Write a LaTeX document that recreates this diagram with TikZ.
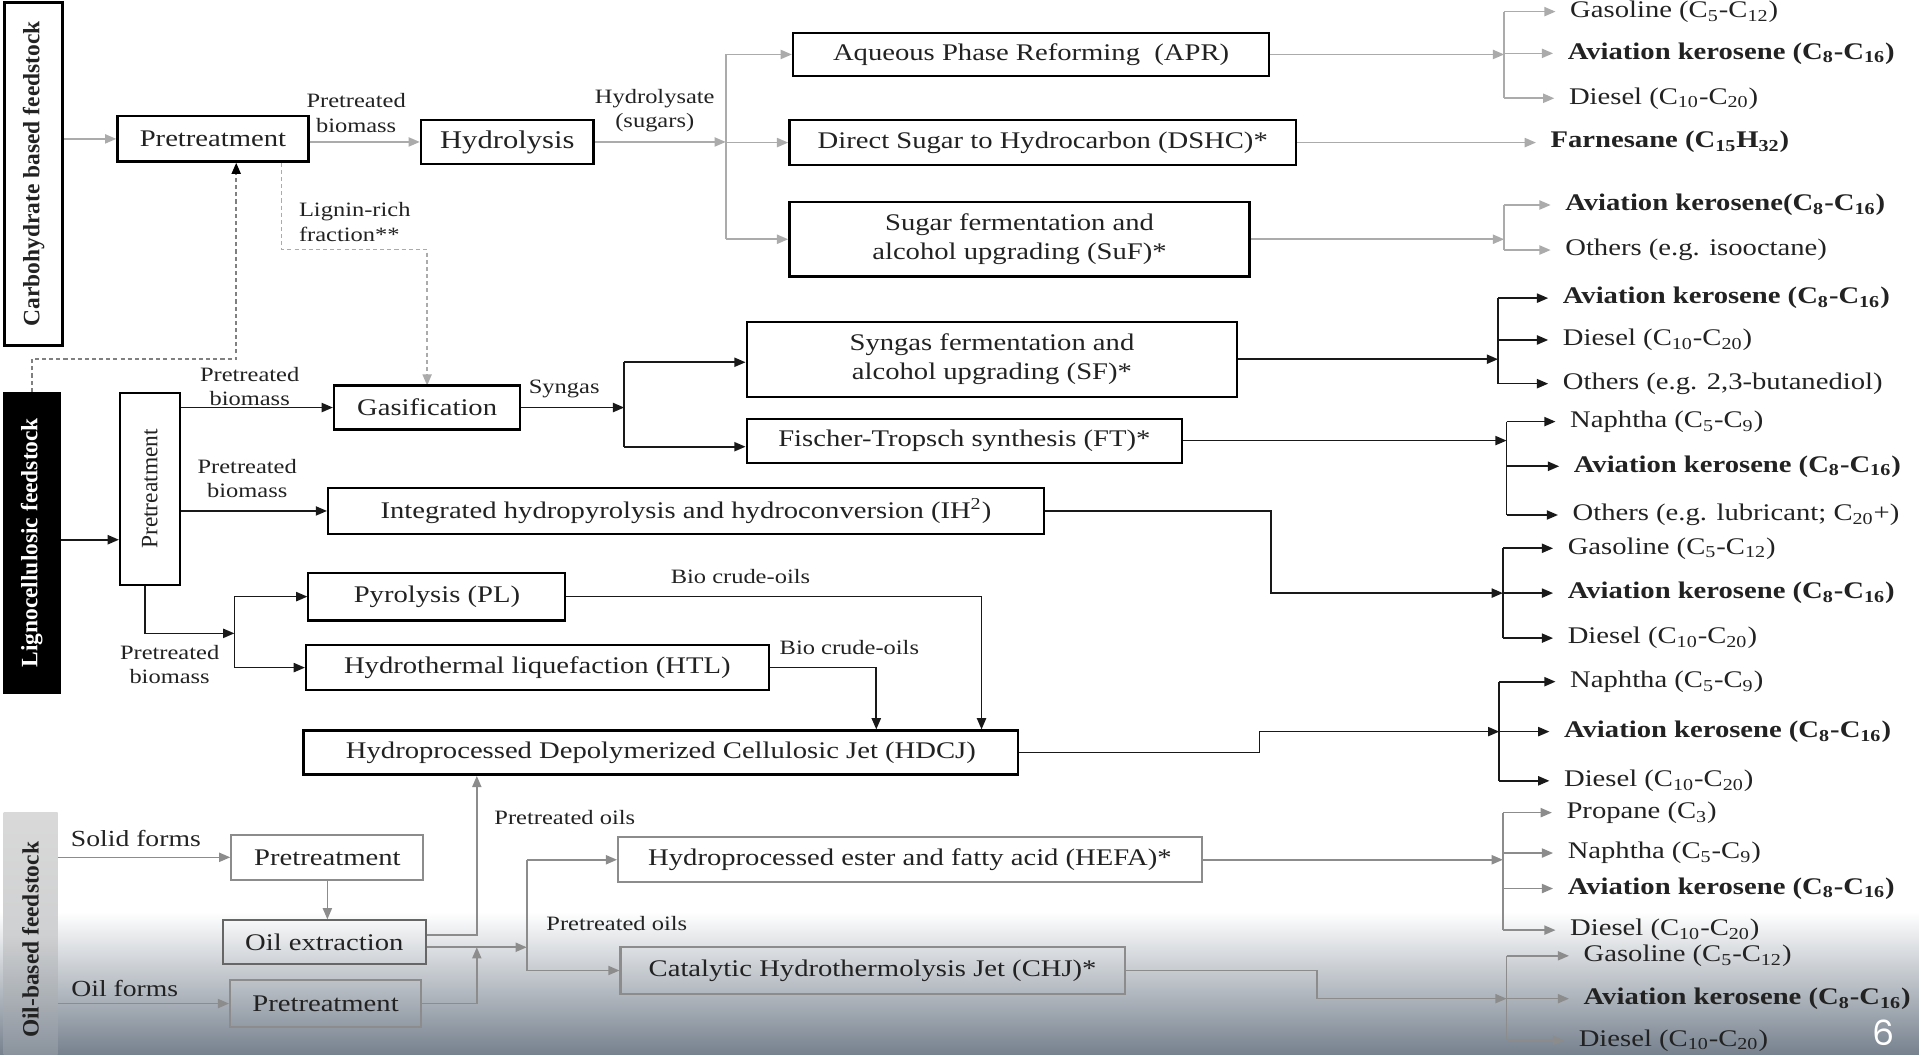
\documentclass[tikz,border=0pt]{standalone}
\usepackage{fontspec}
\setmainfont{Liberation Serif}[FakeStretch=1.2]
\newfontfamily\rotfont{Liberation Serif}
\newfontfamily\pnfont{Poppins}
\usetikzlibrary{arrows.meta}
\definecolor{txt}{HTML}{222222}
\definecolor{lgray}{HTML}{ABABAB}
\definecolor{mgray}{HTML}{8C8C8C}
\definecolor{dgray}{HTML}{666666}
\definecolor{slate}{RGB}{118,129,142}
\definecolor{oilgray}{HTML}{D9D9D9}
\newcommand\Crange[2]{(C\textsubscript{#1}-C\textsubscript{#2})}
\newcommand\bx[7]{\node[#1, minimum width={(#4-#2)*0.6pt}, minimum height={(#5-#3)*0.6pt}] (#6) at ({(#2+#4)/2},{(#3+#5)/2}) {#7};}
\tikzset{
  >={Triangle[length=5.5pt,width=4.5pt]},
  base/.style={font=\fontsize{11.7}{14}\selectfont, text=txt, align=center},
  cbox/.style={base, draw=black, line width=1.2pt, inner sep=0pt},
  lbox/.style={base, draw=black, line width=1pt, inner sep=0pt},
  obox/.style={base, draw=mgray, line width=1pt, inner sep=0pt},
  prod/.style={anchor=west, inner xsep=7pt, inner ysep=1pt, font=\fontsize{11.7}{14}\selectfont, text=txt},
  prodb/.style={prod, font=\fontsize{11.7}{14}\selectfont\bfseries},
  lab/.style={font=\fontsize{10}{12}\selectfont, text=txt, inner sep=0pt, align=center},
  rlab/.style={rotate=90, font=\rotfont\bfseries\fontsize{11.5}{13}\selectfont, text=txt, inner sep=0pt},
  gline/.style={draw=lgray, line width=0.8pt},
  garr/.style={gline, ->},
  kline/.style={draw=black!90, line width=0.8pt},
  karr/.style={kline, ->},
  oline/.style={draw=mgray, line width=0.8pt},
  oarr/.style={oline, ->},
  gdash/.style={draw=lgray, line width=0.8pt, dash pattern=on 2pt off 1.5pt, -{Triangle[length=5.5pt,width=4.5pt]}},
  kdash/.style={draw=gray, line width=0.8pt, dash pattern=on 2pt off 1.5pt, -{Triangle[length=5.5pt,width=4.5pt,black]}},
}
\begin{document}
\begin{tikzpicture}[x=0.6pt,y=-0.6pt]
\useasboundingbox (0,0) rectangle (1568,862);
\shade[top color=white, bottom color=slate] (0,745) rectangle (1568,862);

% ---------------- Carbohydrate ----------------
\bx{cbox,fill=white,line width=1.4pt}{4}{2}{51}{282}{carb}{}
\node[rlab] (carbt) at (carb.center) {Carbohydrate based feedstock};
\bx{cbox}{96}{95}{252}{132}{pre1}{Pretreatment}
\bx{cbox}{344}{98}{485}{134}{hyd}{\fontsize{12.5}{14}\selectfont Hydrolysis}
\bx{cbox}{648}{27}{1037}{62}{apr}{Aqueous Phase Reforming \ (APR)}
\bx{cbox}{645}{98}{1059}{135}{dshc}{Direct Sugar to Hydrocarbon (DSHC)*}
\bx{cbox}{645}{165}{1021}{226}{suf}{Sugar fermentation and\\alcohol upgrading (SuF)*}

\draw[garr] (carb.east |- pre1.west) -- (pre1.west);
\draw[garr] (pre1.east |- hyd.west) -- (hyd.west);
\node[lab] (l1) at (291,92.5) {Pretreated\\biomass};
\coordinate (hb) at (593,116);
\draw[garr] (hyd.east) -- (hb);
\node[lab] (l2) at (535,90.5) {Hydrolysate\\(sugars)};
\draw[gline] (apr.west -| hb) -- (suf.west -| hb);
\draw[garr] (apr.west -| hb) -- (apr.west);
\draw[garr] (dshc.west -| hb) -- (dshc.west);
\draw[garr] (suf.west -| hb) -- (suf.west);

% products APR
\node[prod]  (pa1) at (1271,9.5) {Gasoline \Crange{5}{12}};
\node[prodb] (pa2) at (1269,43.6) {Aviation kerosene \Crange{8}{16}};
\node[prod]  (pa3) at (1270,80.3) {Diesel \Crange{10}{20}};
\coordinate (ab) at (1229,0);
\draw[garr] (apr.east) -- (apr.east -| ab);
\draw[gline] (pa1.west -| ab) -- (pa3.west -| ab);
\foreach \p in {pa1,pa2,pa3} \draw[garr] (\p.west -| ab) -- (\p.west);
% DSHC
\node[prodb] (pd1) at (1255,115.8) {Farnesane (C\textsubscript{15}H\textsubscript{32})};
\draw[garr] (dshc.east) -- (dshc.east -| pd1.west);
% SuF
\node[prodb] (ps1) at (1267,167.5) {Aviation kerosene\Crange{8}{16}};
\node[prod]  (ps2) at (1267,204.3) {Others (e.g. isooctane)};
\draw[garr] (suf.east) -- (suf.east -| ab);
\draw[gline] (ps1.west -| ab) -- (ps2.west -| ab);
\foreach \p in {ps1,ps2} \draw[garr] (\p.west -| ab) -- (\p.west);

% lignin dashed
\coordinate (lg1) at (230,204);
\draw[gdash] (pre1.south -| lg1) -- (lg1) -| (349,315);
\node[lab, align=left, anchor=west] (l3) at (244,181.5) {Lignin-rich\\fraction**};

% ---------------- Lignocellulosic ----------------
\bx{lbox,fill=black}{3}{321}{49}{566}{ligno}{}
\node[rlab, text=white] (lignot) at (ligno.center) {Lignocellulosic feedstock};
\coordinate (ld) at (193,293.5);
\draw[kdash] (ligno.north) |- (ld) -- (pre1.south -| ld);
\bx{lbox}{98}{321}{147}{478}{pre2}{}
\node[rlab, font=\rotfont\fontsize{11.5}{13}\selectfont] (pre2t) at (pre2.center) {Pretreatment};
\bx{lbox,line width=1.2pt}{273}{315}{425}{351}{gas}{Gasification}
\bx{lbox}{610}{263}{1011}{324}{sf}{Syngas fermentation and\\alcohol upgrading (SF)*}
\bx{lbox}{610}{342}{966}{378}{ft}{Fischer-Tropsch synthesis (FT)*}
\bx{lbox}{268}{399}{853}{436}{ih2}{Integrated hydropyrolysis and hydroconversion (IH\textsuperscript{2})}
\bx{lbox}{252}{468}{462}{507}{pl}{Pyrolysis (PL)}
\bx{lbox}{250}{527}{628}{564}{htl}{Hydrothermal liquefaction (HTL)}
\bx{cbox}{248}{597}{832}{633}{hdcj}{Hydroprocessed Depolymerized Cellulosic Jet (HDCJ)}

\coordinate (la) at (0,441);
\draw[karr] (ligno.east |- la) -- (pre2.west |- la);
\draw[karr] (pre2.east |- gas.west) -- (gas.west);
\node[lab] (l4) at (204,316) {Pretreated\\biomass};
\coordinate (sb) at (510,333);
\draw[karr] (gas.east) -- (sb);
\node[lab] (l5) at (461,318) {Syngas};
\coordinate (sb1) at (510,296);
\coordinate (sb2) at (510,365);
\draw[kline] (sb1) -- (sb2);
\draw[karr] (sb1) -- (sb1 -| sf.west);
\draw[karr] (sb2) -- (sb2 -| ft.west);
\draw[karr] (pre2.east |- ih2.west) -- (ih2.west);
\node[lab] (l6) at (202,391) {Pretreated\\biomass};
\coordinate (pb0) at (118.6,517.5);
\coordinate (pb) at (191.5,517.5);
\draw[karr] (pre2.south -| pb0) -- (pb0) -- (pb);
\draw[kline] (pb |- pl.west) -- (pb |- htl.west);
\draw[karr] (pb |- pl.west) -- (pl.west);
\draw[karr] (pb |- htl.west) -- (htl.west);
\node[lab] (l7) at (138.6,543) {Pretreated\\biomass};
\coordinate (bc1) at (802,0);
\coordinate (bc2) at (716,0);
\draw[karr] (pl.east) -| (bc1 |- hdcj.north);
\draw[karr] (htl.east) -| (bc2 |- hdcj.north);
\node[lab] (l8) at (605,471) {Bio crude-oils};
\node[lab] (l9) at (694,529) {Bio crude-oils};

% products SF
\node[prodb] (pf1) at (1265,243.6) {Aviation kerosene \Crange{8}{16}};
\node[prod]  (pf2) at (1265,277.8) {Diesel \Crange{10}{20}};
\node[prod]  (pf3) at (1265,313.5) {Others (e.g. 2,3-butanediol)};
\coordinate (sfb) at (1224,0);
\draw[karr] (sf.east) -- (sf.east -| sfb);
\draw[kline] (pf1.west -| sfb) -- (pf3.west -| sfb);
\foreach \p in {pf1,pf2,pf3} \draw[karr] (\p.west -| sfb) -- (\p.west);
% products FT
\node[prod]  (pt1) at (1271,344.5) {Naphtha \Crange{5}{9}};
\node[prodb] (pt2) at (1274,381) {Aviation kerosene \Crange{8}{16}};
\node[prod]  (pt3) at (1273,420.8) {Others (e.g. lubricant; C\textsubscript{20}+)};
\coordinate (ftb) at (1231,0);
\draw[karr] (ft.east) -- (ft.east -| ftb);
\draw[kline] (pt1.west -| ftb) -- (pt3.west -| ftb);
\foreach \p in {pt1,pt2,pt3} \draw[karr] (\p.west -| ftb) -- (\p.west);
% products IH2
\node[prod]  (pi1) at (1269,448) {Gasoline \Crange{5}{12}};
\node[prodb] (pi2) at (1269,484.6) {Aviation kerosene \Crange{8}{16}};
\node[prod]  (pi3) at (1269,521.4) {Diesel \Crange{10}{20}};
\coordinate (ihx) at (1038.5,0);
\coordinate (ihb) at (1228,0);
\draw[karr] (ih2.east) -| (ihx |- pi2.west) -- (pi2.west -| ihb);
\draw[kline] (pi1.west -| ihb) -- (pi3.west -| ihb);
\foreach \p in {pi1,pi2,pi3} \draw[karr] (\p.west -| ihb) -- (\p.west);
% products HDCJ
\node[prod]  (ph1) at (1271,557) {Naphtha \Crange{5}{9}};
\node[prodb] (ph2) at (1266,597.8) {Aviation kerosene \Crange{8}{16}};
\node[prod]  (ph3) at (1266,638) {Diesel \Crange{10}{20}};
\coordinate (hdx) at (1029,0);
\coordinate (hdb) at (1225,0);
\draw[karr] (hdcj.east) -| (hdx |- ph2.west) -- (ph2.west -| hdb);
\draw[kline] (ph1.west -| hdb) -- (ph3.west -| hdb);
\foreach \p in {ph1,ph2,ph3} \draw[karr] (\p.west -| hdb) -- (\p.west);

% ---------------- Oil-based ----------------
\bx{draw=none, inner sep=0pt, top color=oilgray, bottom color=slate!80!oilgray, middle color=oilgray!90!slate}{3}{664}{47}{862}{oilbox}{}
\node[rlab] (oilt) at (25,768) {Oil-based feedstock};
\bx{obox}{189}{682}{346}{719}{pre3}{Pretreatment}
\bx{obox,draw=dgray}{182}{752}{348}{788}{oilx}{Oil extraction}
\bx{obox}{188}{801}{344}{839}{pre4}{Pretreatment}
\bx{obox}{505}{684}{982}{721}{hefa}{Hydroprocessed ester and fatty acid (HEFA)*}
\bx{obox}{507}{774}{919}{812}{chj}{Catalytic Hydrothermolysis Jet (CHJ)*}
\node[lab, font=\fontsize{11.3}{13}\selectfont] (l10) at (111,685) {Solid forms};
\node[lab, font=\fontsize{11.3}{13}\selectfont] (l11) at (102,808) {Oil forms};
\draw[oarr] (oilbox.east |- pre3.west) -- (pre3.west);
\draw[oarr] (oilbox.east |- pre4.west) -- (pre4.west);
\draw[oarr] (pre3.south) -- (pre3.south |- oilx.north);
\coordinate (ox) at (389.6,764);
\draw[oarr] (oilx.east |- ox) -- (ox) -- (ox |- hdcj.south);
\coordinate (oy) at (389.6,774);
\coordinate (obr) at (430.4,774);
\draw[oarr] (oilx.east |- oy) -- (obr);
\draw[oarr] (pre4.east) -| (oy);
\draw[oline] (obr |- hefa.west) -- (obr |- chj.west);
\draw[oarr] (obr |- hefa.west) -- (hefa.west);
\draw[oarr] (obr |- chj.west) -- (chj.west);
\node[lab] (l12) at (461.5,668) {Pretreated oils};
\node[lab] (l13) at (504,755) {Pretreated oils};

% products HEFA
\node[prod]  (pe1) at (1268,664) {Propane (C\textsubscript{3})};
\node[prod]  (pe2) at (1269,697) {Naphtha \Crange{5}{9}};
\node[prodb] (pe3) at (1269,726) {Aviation kerosene \Crange{8}{16}};
\node[prod]  (pe4) at (1271,760) {Diesel \Crange{10}{20}};
\coordinate (heb) at (1228,0);
\draw[oarr] (hefa.east) -- (hefa.east -| heb);
\draw[oline] (pe1.west -| heb) -- (pe4.west -| heb);
\foreach \p in {pe1,pe2,pe3,pe4} \draw[oarr] (\p.west -| heb) -- (\p.west);
% products CHJ
\node[prod]  (pc1) at (1282,781) {Gasoline \Crange{5}{12}};
\node[prodb] (pc2) at (1282,816) {Aviation kerosene \Crange{8}{16}};
\node[prod]  (pc3) at (1278,850) {Diesel \Crange{10}{20}};
\coordinate (chx) at (1076,0);
\coordinate (chb) at (1231,0);
\draw[oarr] (chj.east) -| (chx |- pc2.west) -- (pc2.west -| chb);
\draw[oline] (pc1.west -| chb) -- (pc3.west -| chb);
\foreach \p in {pc1,pc2,pc3} \draw[oarr] (\p.west -| chb) -- (\p.west);

\node[font=\pnfont\fontsize{17}{17}\selectfont, text=white, inner sep=0pt, anchor=base] (pg) at (1539,854) {6};
\end{tikzpicture}
\end{document}
